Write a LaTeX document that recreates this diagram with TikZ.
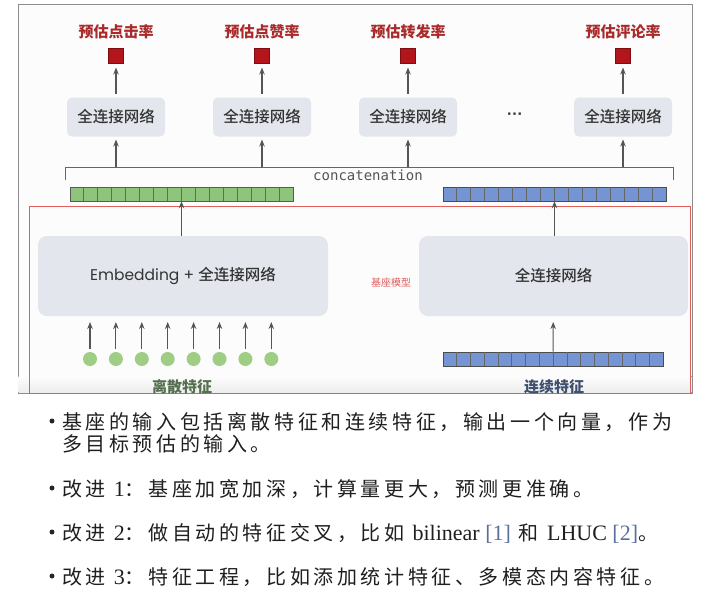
\documentclass[tikz,border=0pt]{standalone}
\usepackage{fontspec}
\setmainfont{Liberation Serif}
\setsansfont{Liberation Sans}
\setmonofont{DejaVu Sans Mono}
\newfontfamily\cjkhead{Noto Sans CJK SC}
\newfontfamily\cjkmed{Noto Sans CJK SC Medium}
\newfontfamily\cjkbody{Noto Sans CJK SC}[LetterSpace=18]
\newfontfamily\embfont{Poppins}
\usepackage{tikz}
\usetikzlibrary{arrows.meta, positioning, calc}
\definecolor{headred}{HTML}{A82A2A}
\definecolor{sqred}{HTML}{B3151B}
\definecolor{boxgray}{HTML}{E3E6EC}
\definecolor{textgray}{HTML}{333333}
\definecolor{arrowgray}{HTML}{555555}
\definecolor{cellgreen}{HTML}{8EC47C}
\definecolor{cellblue}{HTML}{7494D3}
\definecolor{dotgreen}{HTML}{9ECD83}
\definecolor{framered}{HTML}{E35D5D}
\definecolor{refblue}{HTML}{5A6F9A}
\definecolor{discgreen}{HTML}{55704F}
\definecolor{contblue}{HTML}{3F4F6F}
\newcommand\lat[1]{{\rmfamily #1}}
\tikzset{
    fcbox/.style={rectangle, fill=boxgray, rounded corners=5pt, minimum width=98pt, minimum height=39pt, outer sep=0pt, text=textgray, font=\cjkmed\fontsize{15.5}{18}\selectfont},
    basebox/.style={fcbox, rounded corners=9pt, minimum height=80pt},
    outsq/.style={rectangle, fill=sqred, draw=sqred!70!black, line width=0.5pt, minimum size=15pt, inner sep=0pt, outer sep=0pt},
    headlabel/.style={inner sep=0pt, text=headred, font=\cjkhead\bfseries\fontsize{15}{18}\selectfont},
    arrow/.style={-{Stealth[length=7pt, width=5.5pt]}, line width=1.1pt, draw=arrowgray},
    bracket/.style={line width=0.8pt, draw=arrowgray!90},
    catlabel/.style={inner sep=0pt, text=arrowgray, font=\ttfamily\fontsize{14}{16}\selectfont},
    gvec/.style={rectangle, fill=cellgreen, draw=black!65, line width=0.6pt, minimum width=223pt, minimum height=14pt, inner sep=0pt},
    bvec/.style={gvec, fill=cellblue, draw=black!70},
    cellline/.style={line width=0.5pt, draw=black!60},
    featdot/.style={circle, fill=dotgreen, minimum size=14pt, inner sep=0pt},
    featlabel/.style={inner sep=0pt, font=\cjkhead\bfseries\fontsize{15}{18}\selectfont},
    baseframe/.style={line width=0.6pt, draw=framered},
    shotframe/.style={line width=0.6pt, draw=black!45, fill=black!1},
    bulletdot/.style={circle, fill=black!85, minimum size=5pt, inner sep=0pt},
    bullettext/.style={anchor=west, inner sep=0pt, text=black!88, font=\cjkbody\fontsize{20}{24}\selectfont}
}

\begin{document}
\begin{tikzpicture}[x=1pt, y=-1pt, node distance=10pt and 10pt]
    \useasboundingbox (0,0) rectangle (714,605);

    % screenshot and base model frame
    \draw[shotframe] (18,4) rectangle (692,393);
    \fill[top color=black!1, bottom color=black!7] (18.5,376) rectangle (691.5,392.5);
    \draw[baseframe] (29,206) rectangle (690,393);

    % task heads
    \node[fcbox] (fc1) at (116,117) {全连接网络};
    \node[fcbox] (fc2) at (262,117) {全连接网络};
    \node[fcbox] (fc3) at (408,117) {全连接网络};
    \node[fcbox] (fc4) at (623,117) {全连接网络};
    \node[text=textgray, font=\sffamily\bfseries\fontsize{16}{18}\selectfont] (more) at (515,116) {···};

    \node[outsq, above=34pt of fc1] (sq1) {};
    \node[outsq, above=34pt of fc2] (sq2) {};
    \node[outsq, above=34pt of fc3] (sq3) {};
    \node[outsq, above=34pt of fc4] (sq4) {};

    \node[headlabel, above=9pt of sq1] (lab1) {预估点击率};
    \node[headlabel, above=9pt of sq2] (lab2) {预估点赞率};
    \node[headlabel, above=9pt of sq3] (lab3) {预估转发率};
    \node[headlabel, above=9pt of sq4] (lab4) {预估评论率};

    \draw[arrow, shorten <=4pt, shorten >=4pt] (fc1) -- (sq1);
    \draw[arrow, shorten <=4pt, shorten >=4pt] (fc2) -- (sq2);
    \draw[arrow, shorten <=4pt, shorten >=4pt] (fc3) -- (sq3);
    \draw[arrow, shorten <=4pt, shorten >=4pt] (fc4) -- (sq4);

    % concatenation bracket
    \coordinate (catL) at (65,180);
    \coordinate (catR) at (673,180);
    \coordinate (cattop) at (368,167);
    \draw[bracket] (catL) -- (catL |- cattop) -- (catR |- cattop) -- (catR);
    \node[catlabel] (cat) at (368,175) {concatenation};

    \draw[arrow, shorten >=3pt] (fc1 |- cattop) -- (fc1);
    \draw[arrow, shorten >=3pt] (fc2 |- cattop) -- (fc2);
    \draw[arrow, shorten >=3pt] (fc3 |- cattop) -- (fc3);
    \draw[arrow, shorten >=3pt] (fc4 |- cattop) -- (fc4);

    % output vectors of the base model
    \node[gvec] (gv) at (181.5,194) {};
    \node[bvec] (bv) at (554.5,194) {};
    \foreach \i in {1,...,15} {
        \draw[cellline] ($(gv.north west)!\i/16!(gv.north east)$) -- ($(gv.south west)!\i/16!(gv.south east)$);
        \draw[cellline] ($(bv.north west)!\i/16!(bv.north east)$) -- ($(bv.south west)!\i/16!(bv.south east)$);
    }

    % base model
    \node[basebox, minimum width=290pt] (emb) at (183,276) {\embfont Embedding + {\cjkmed 全连接网络}};
    \node[basebox, minimum width=269pt] (cont) at (553.5,276) {全连接网络};
    \node[inner sep=0pt, text=framered, font=\cjkhead\fontsize{10}{12}\selectfont] (basename) at (391,283) {基座模型};

    \draw[arrow] (gv |- emb.north) -- (gv.south);
    \draw[arrow] (bv |- cont.north) -- (bv.south);

    % inputs
    \foreach \i in {1,...,8} {
        \node[featdot] (d\i) at ({64.1+25.9*\i},359) {};
        \draw[arrow, shorten <=3pt, shorten >=6pt] (d\i) -- (d\i |- emb.south);
    }
    \node[bvec, minimum width=220pt] (bin) at (553,359) {};
    \foreach \i in {1,...,15} {
        \draw[cellline] ($(bin.north west)!\i/16!(bin.north east)$) -- ($(bin.south west)!\i/16!(bin.south east)$);
    }
    \draw[arrow, shorten >=6pt] (bin) -- (cont);

    \node[featlabel, text=discgreen] (disc) at (182,387) {离散特征};
    \node[featlabel, text=contblue] (contin) at (554,387) {连续特征};

    % notes
    \node[bulletdot] (b1) at (52,421) {};
    \node[bullettext] (t1) at (62,422) {基座的输入包括离散特征和连续特征，输出一个向量，作为};
    \node[bullettext] (t1b) at (62,444) {多目标预估的输入。};
    \node[bulletdot] (b2) at (52,488) {};
    \node[bullettext] (t2) at (62,489) {改进 \lat{\fontsize{22}{24}\selectfont 1}：基座加宽加深，计算量更大，预测更准确。};
    \node[bulletdot] (b3) at (52,532) {};
    \node[bullettext] (t3) at (62,533) {改进 \lat{\fontsize{22}{24}\selectfont 2}：做自动的特征交叉，比如 \lat{\fontsize{22}{24}\selectfont bilinear \textcolor{refblue}{[1]}} 和 \lat{\fontsize{22}{24}\selectfont LHUC \textcolor{refblue}{[2]}}。};
    \node[bulletdot] (b4) at (52,576) {};
    \node[bullettext] (t4) at (62,577) {改进 \lat{\fontsize{22}{24}\selectfont 3}：特征工程，比如添加统计特征、多模态内容特征。};
\end{tikzpicture}
\end{document}
